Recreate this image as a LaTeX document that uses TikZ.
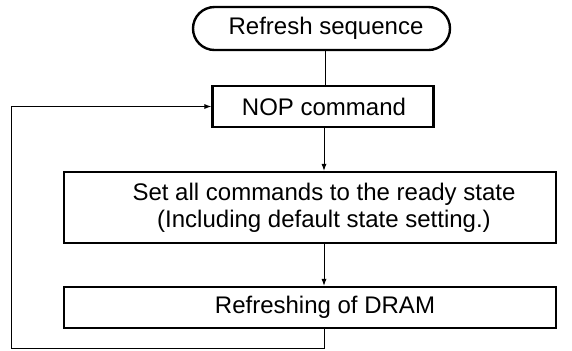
\documentclass[tikz,border=0pt]{standalone}
\usepackage{fontspec}
\setmainfont{Liberation Sans}
\usetikzlibrary{arrows.meta}
\begin{document}
\begin{tikzpicture}[x=0.5pt,y=-0.5pt,
  box/.style={draw,line width=1.2pt,inner sep=0pt},
  txt/.style={inner sep=0pt,align=center,font=\fontsize{12}{13.5}\selectfont},
  conn/.style={line width=0.5pt},
  arr/.style={conn,-{Latex[length=3.5pt,width=2.6pt]}}]
\useasboundingbox (0,0) rectangle (572,350);
\node[box,rounded corners=10.75pt,minimum width=128.5pt,minimum height=21.5pt] (term) at (321.5,28.5) {};
\node[txt] (termT) at (326,28.5) {Refresh sequence};
\node[box,minimum width=110.5pt,minimum height=20.5pt] (nop) at (323,106.5) {};
\node[txt] (nopT) at (324,107) {NOP command};
\node[box,minimum width=246pt,minimum height=35.5pt] (set) at (310,207.5) {};
\node[txt] (setT) at (324,207.5) {Set all commands to the ready state\\(Including default state setting.)};
\node[box,minimum width=246pt,minimum height=20.5pt] (ref) at (310,307.5) {};
\node[txt] (refT) at (325,307.5) {Refreshing of DRAM};
\coordinate (c1) at (324,348);
\coordinate (c2) at (11,348);
\draw[conn] (term.south -| 325,0) -- (nop.north -| 325,0);
\draw[arr] (nop.south -| 324,0) -- (set.north -| 324,0);
\draw[arr] (set.south -| 324,0) -- (ref.north -| 324,0);
\draw[arr] (ref.south -| c1) -- (c1) -- (c2) |- (nop.west);
\end{tikzpicture}
\end{document}
